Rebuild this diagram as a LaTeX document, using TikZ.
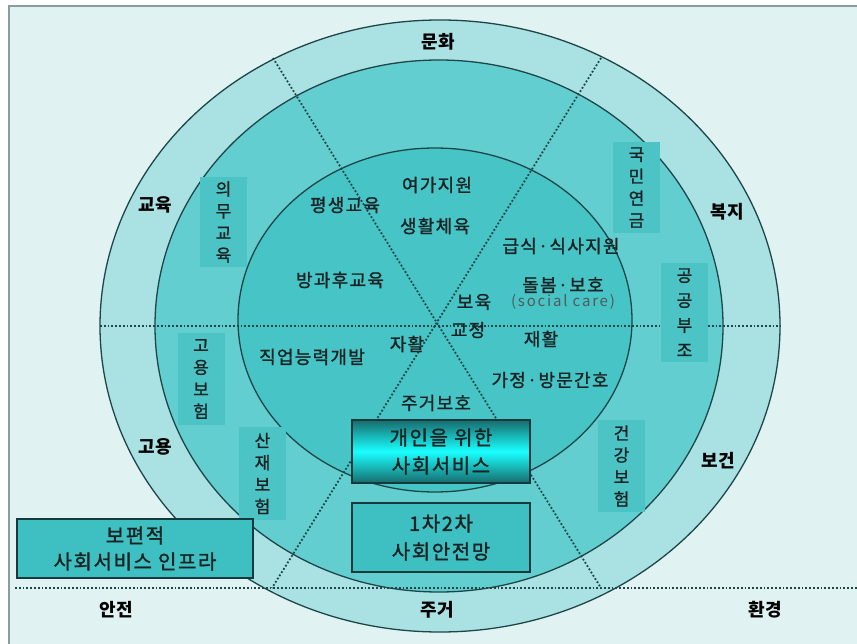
\documentclass[tikz,border=0pt]{standalone}
\usepackage{fontspec}
\setmainfont{Noto Sans CJK KR}
\newfontfamily\krmed[FakeBold=1.2,LetterSpace=7]{Noto Sans CJK KR}
\newfontfamily\krbox[FakeBold=1.5,LetterSpace=8]{Noto Sans CJK KR}
\newfontfamily\krwide[LetterSpace=12]{Noto Sans CJK KR}
\definecolor{bgC}{RGB}{224,242,242}
\definecolor{frameC}{RGB}{140,155,155}
\definecolor{outerC}{RGB}{170,226,228}
\definecolor{midC}{RGB}{98,206,208}
\definecolor{innerC}{RGB}{70,196,198}
\definecolor{vboxC}{RGB}{76,196,198}
\definecolor{boxC}{RGB}{62,192,194}
\definecolor{lineC}{RGB}{30,70,72}
\definecolor{edgeC}{RGB}{22,58,60}
\definecolor{txtC}{RGB}{25,35,35}
\begin{document}
\begin{tikzpicture}[x=1pt,y=-1pt,
  ring/.style={draw=lineC, line width=1.3pt},
  sep/.style={draw=lineC, line width=1.8pt, dotted},
  cat/.style={font=\fontsize{18}{21}\selectfont\bfseries, text=black, inner sep=0pt},
  inl/.style={font=\krmed\fontsize{18}{21}\selectfont, text=txtC, inner sep=0pt},
  vbox/.style={fill=vboxC, minimum width=47pt, align=center, inner sep=0pt,
               font=\krmed\fontsize{17}{22}\selectfont, text=txtC},
  bigbox/.style={draw=edgeC, line width=2.6pt, align=center, inner sep=0pt,
               font=\krbox\fontsize{20}{28}\selectfont, text=txtC}]
\useasboundingbox (0,0) rectangle (857,644);
\fill[white] (0,0) rectangle (857,644);
\fill[bgC] (9,6) rectangle (870,660);
\draw[frameC, line width=2.5pt] (9,660) -- (9,6) -- (870,6);
% rings
\path[ring, fill=outerC] (440,326) ellipse [x radius=340pt, y radius=306pt];
\path[ring, fill=midC] (439,326) ellipse [x radius=284pt, y radius=266pt];
\path[ring, fill=innerC] (435,320) ellipse [x radius=197pt, y radius=172pt];
% separator lines
\coordinate (ha) at (100,326);
\coordinate (hb) at (781,326);
\coordinate (ba) at (15,588);
\coordinate (bb) at (857,588);
\coordinate (da1) at (273,58);
\coordinate (da2) at (601,588);
\coordinate (db1) at (601,58);
\coordinate (db2) at (272,588);
\draw[sep] (ha) -- (hb);
\draw[sep] (ba) -- (bb);
\draw[sep] (da1) -- (da2);
\draw[sep] (db1) -- (db2);
% outer categories
\node[cat] (munhwa) at (438,42) {문화};
\node[cat] (gyoyuk) at (155,205) {교육};
\node[cat] (bokji) at (727,212) {복지};
\node[cat] (goyong) at (155,447) {고용};
\node[cat] (bogeon) at (718,461) {보건};
\node[cat] (anjeon) at (116,610) {안전};
\node[cat] (jugeo) at (437,610) {주거};
\node[cat] (hwangyeong) at (765,610) {환경};
% middle ring boxes
\node[vbox, minimum height=90pt] (uimu) at (223.5,222) {의\\무\\교\\육};
\node[vbox, minimum height=91pt] (gukmin) at (636.5,187.5) {국\\민\\연\\금};
\node[vbox, minimum height=99pt, font=\krmed\fontsize{17}{25}\selectfont] (gonggong) at (684.5,312.5) {공\\공\\부\\조};
\node[vbox, minimum height=92pt] (goyongbo) at (201,379) {고\\용\\보\\험};
\node[vbox, minimum height=93pt] (sanjae) at (262.5,473.5) {산\\재\\보\\험};
\node[vbox, minimum height=92pt] (geongang) at (621.5,466) {건\\강\\보\\험};
% inner labels
\node[inl] (yeoga) at (437,185) {여가지원};
\node[inl] (pyeong) at (345,205) {평생교육};
\node[inl] (saenghwal) at (435,226) {생활체육};
\node[inl] (banggwa) at (340,280) {방과후교육};
\node[inl] (geupsik) at (561,246) {급식·식사지원};
\node[inl] (dolbom) at (563,285) {돌봄·보호};
\node[inl, font=\krwide\fontsize{15}{17}\selectfont, text=txtC!75] (social) at (563,302) {(social care)};
\node[inl] (boyuk) at (474,302) {보육};
\node[inl] (gyojeong) at (468,330) {교정};
\node[inl] (jaehwal) at (541,339) {재활};
\node[inl] (jahwal) at (407,344) {자활};
\node[inl] (jigeop) at (312,357) {직업능력개발};
\node[inl] (gajeong) at (550,380) {가정·방문간호};
\node[inl] (jugeobo) at (436,403) {주거보호};
% big boxes
\node[bigbox, minimum width=178pt, minimum height=63pt,
      top color=lineC!80!cyan, bottom color=lineC!80!cyan, middle color=cyan!90!white]
      (gaein) at (441,451.5) {개인을 위한\\사회서비스};
\node[bigbox, fill=boxC, minimum width=178pt, minimum height=69pt]
      (safety) at (441,537.5) {1차2차\\사회안전망};
\node[bigbox, fill=boxC, minimum width=236pt, minimum height=59pt, font=\krbox\fontsize{20}{26}\selectfont]
      (infra) at (135,548.5) {보편적\\사회서비스 인프라};
\end{tikzpicture}
\end{document}
